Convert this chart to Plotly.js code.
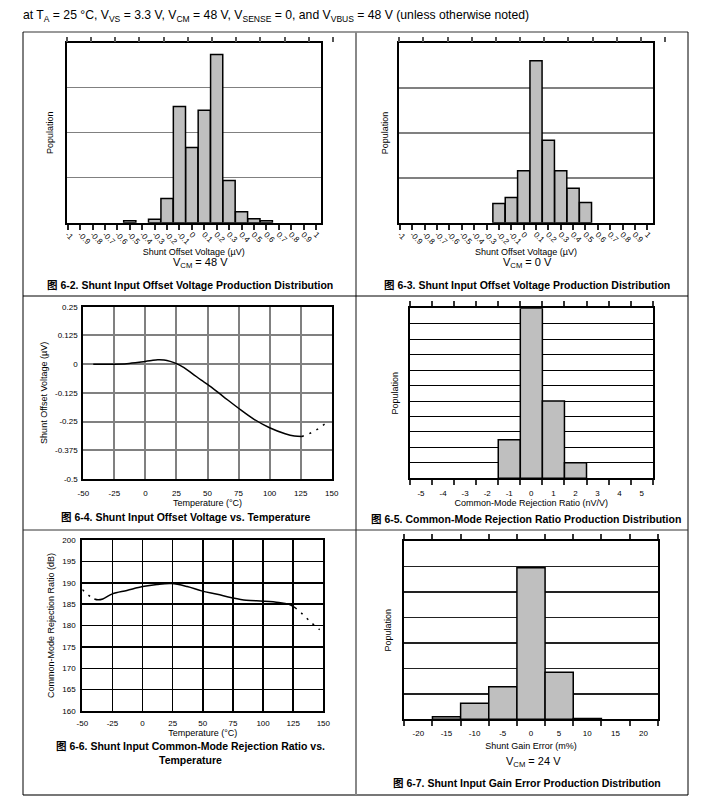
<!DOCTYPE html>
<html><head><meta charset="utf-8">
<script src="https://cdn.plot.ly/plotly-3.0.1.min.js"></script>
<style>html,body{margin:0;padding:0;background:#fff}#chart{width:724px;height:806px}</style>
</head><body><div id="chart"></div>
<script>
// ---------- data ----------
const offsetTickVals = [-1,-0.9,-0.8,-0.7,-0.6,-0.5,-0.4,-0.3,-0.2,-0.1,0,0.1,0.2,0.3,0.4,0.5,0.6,0.7,0.8,0.9,1];
const offsetTickText = ["-1","-0.9","-0.8","-0.7","-0.6","-0.5","-0.4","-0.3","-0.2","-0.1","0","0.1","0.2","0.3","0.4","0.5","0.6","0.7","0.8","0.9","1"];
const vcm48Bins = [-0.5,-0.3,-0.2,-0.1,0,0.1,0.2,0.3,0.4,0.5,0.6];
const vcm48Pop  = [0.044,0.074,0.54,2.58,1.67,2.50,3.74,0.94,0.244,0.089,0.044];
const vcm0Bins  = [-0.2,-0.1,0,0.1,0.2,0.3,0.4,0.5];
const vcm0Pop   = [0.43,0.56,1.16,3.61,1.84,1.16,0.77,0.45];

const tempTickVals = [-50,-25,0,25,50,75,100,125,150];
const tempTickText = ["-50","-25","0","25","50","75","100","125","150"];

const offTempX   = [-42,-35,-25,-15,-5,0,5,10,15,20,25,30,37.5,45,50,62.5,75,87.5,100,112.5,120,126];
const offTempY   = [0,0,0,0.002,0.008,0.012,0.016,0.019,0.018,0.012,0.002,-0.012,-0.04,-0.07,-0.088,-0.14,-0.192,-0.24,-0.277,-0.303,-0.313,-0.315];
const offTempDotX = [126,132,139,147];
const offTempDotY = [-0.315,-0.303,-0.282,-0.25];
const offYTickVals = [-0.5,-0.375,-0.25,-0.125,0,0.125,0.25];
const offYTickText = ["-0.5","-0.375","-0.25","-0.125","0","0.125","0.25"];

const cmrrBins = [-1,0,1,2];
const cmrrPop  = [2.5,11,5,1];
const cmrrBinEdges = [-5.5,-4.5,-3.5,-2.5,-1.5,-0.5,0.5,1.5,2.5,3.5,4.5,5.5];
const cmrrTickText = ["-5","-4","-3","-2","-1","0","1","2","3","4","5",""];

const cmrrTempX = [-40,-37,-33,-25,-13,0,12,24,37,49,62,74,86,100,113,121,126.5];
const cmrrTempY = [186.2,186.0,186.2,187.4,188.2,189.1,189.6,189.8,189.1,188.1,187.3,186.5,185.9,185.7,185.4,185.0,184.2];
const cmrrDotLowX = [-50,-43,-40];
const cmrrDotLowY = [188.4,186.7,186.2];
const cmrrDotHighX = [126.5,133,140,147];
const cmrrDotHighY = [184.2,182.6,180.7,179.0];
const cmrrYTickVals = [160,165,170,175,180,185,190,195,200];
const cmrrYTickText = ["160","165","170","175","180","185","190","195","200"];

const gainBins = [-15,-10,-5,0,5,10];
const gainPop  = [0.10,0.63,1.28,5.95,1.85,0.03];
const gainBinEdges = [-22.5,-17.5,-12.5,-7.5,-2.5,2.5,7.5,12.5,17.5,22.5];
const gainTickText = ["-20","-15","-10","-5","0","5","10","15","20",""];

const headerText = "at T<sub>A</sub> = 25 °C, V<sub>VS</sub> = 3.3 V, V<sub>CM</sub> = 48 V, V<sub>SENSE</sub> = 0, and V<sub>VBUS</sub> = 48 V (unless otherwise noted)";

// ---------- helpers ----------
const W = 724, H = 806;
const dx = (a,b) => [a/W, b/W];
const dy = (top,bot) => [1-bot/H, 1-top/H];
const FONT = '"Liberation Sans", Arial, "Noto Sans CJK SC", sans-serif';
const barFill = '#BFBFBF';
const lineStyle = {color:'#000', width:1.5};
const box = {showline:true, linecolor:'#000', linewidth:2, mirror:true, zeroline:false, fixedrange:true};
const ghost = (xa, ya) => ({type:'scatter', mode:'markers', x:[0], y:[0], xaxis:xa, yaxis:ya,
  marker:{opacity:0, size:1}, hoverinfo:'skip', showlegend:false});

// ---------- traces ----------
const traces = [
  {type:'bar', x:vcm48Bins, y:vcm48Pop, width:0.098, xaxis:'x', yaxis:'y',
   marker:{color:barFill, line:lineStyle}, hoverinfo:'skip'},
  {type:'bar', x:vcm0Bins, y:vcm0Pop, width:0.098, xaxis:'x2', yaxis:'y2',
   marker:{color:barFill, line:lineStyle}, hoverinfo:'skip'},
  {type:'scatter', mode:'lines', x:offTempX, y:offTempY, xaxis:'x3', yaxis:'y3',
   line:{color:'#000', width:1.5, shape:'spline'}},
  {type:'scatter', mode:'lines', x:offTempDotX, y:offTempDotY, xaxis:'x3', yaxis:'y3',
   line:{color:'#000', width:1.5, dash:'2px,6px'}},
  {type:'bar', x:cmrrBins, y:cmrrPop, width:1, xaxis:'x4', yaxis:'y4',
   marker:{color:barFill, line:lineStyle}, hoverinfo:'skip'},
  {type:'scatter', mode:'lines', x:cmrrTempX, y:cmrrTempY, xaxis:'x5', yaxis:'y5',
   line:{color:'#000', width:1.5, shape:'spline'}},
  {type:'scatter', mode:'lines', x:cmrrDotLowX, y:cmrrDotLowY, xaxis:'x5', yaxis:'y5',
   line:{color:'#000', width:1.5, dash:'2px,6px', shape:'spline'}},
  {type:'scatter', mode:'lines', x:cmrrDotHighX, y:cmrrDotHighY, xaxis:'x5', yaxis:'y5',
   line:{color:'#000', width:1.5, dash:'2px,6px', shape:'spline'}},
  {type:'bar', x:gainBins, y:gainPop, width:5, xaxis:'x6', yaxis:'y6',
   marker:{color:barFill, line:lineStyle}, hoverinfo:'skip'},
  ghost('x7','y7'), ghost('x8','y8')
];

const tickF = {size:8, color:'#000'};
const titF = {size:9, color:'#000'};
const TW = 2;  // tick width

const topTicks = {side:'top', range:[-0.5,11.5], tickmode:'linear', tick0:0, dtick:1,
  ticks:'outside', ticklen:5, tickwidth:TW, tickcolor:'#555', showticklabels:false, showgrid:false,
  showline:false, zeroline:false, fixedrange:true};
const tinyY = {showticklabels:false, ticks:'', showgrid:false, showline:false, zeroline:false, fixedrange:true, range:[-1,1]};

const ann = (text, x, y, size) => ({text:text, x:x/W, y:1-y/H, xref:'paper', yref:'paper',
  xanchor:'center', yanchor:'middle', showarrow:false, font:{size:size, color:'#000'}});

const layout = {
  width:W, height:H, margin:{l:0,r:0,t:0,b:0},
  paper_bgcolor:'#fff', plot_bgcolor:'rgba(0,0,0,0)',
  showlegend:false, bargap:0,
  font:{family:FONT, size:8, color:'#000'},
  title:{text:headerText, x:23/W, xanchor:'left', xref:'paper', y:1-15/H, yanchor:'middle', font:{size:12.2, color:'#000'}},

  // Panel 1
  xaxis:Object.assign({}, box, {domain:dx(66.7,320.7), anchor:'y', range:[-1.008,1.038],
    tickmode:'array', tickvals:offsetTickVals, ticktext:offsetTickText, tickangle:45, ticklabelstandoff:-3,
    ticks:'outside', ticklen:5, tickwidth:TW, tickcolor:'#222', showgrid:false, tickfont:tickF,
    title:{text:'Shunt Offset Voltage (µV)', font:titF, standoff:0}}),
  yaxis:Object.assign({}, box, {domain:dy(42.7,222.7), anchor:'x', range:[0,4], tickmode:'linear', tick0:0, dtick:1,
    showticklabels:false, ticks:'', showgrid:true, gridcolor:'#808080', gridwidth:1.5,
    title:{text:'Population', font:titF, standoff:10}}),
  xaxis7:Object.assign({}, topTicks, {domain:dx(54.6,345), anchor:'y7'}),
  yaxis7:Object.assign({}, tinyY, {domain:dy(42.7,43.2), anchor:'x7'}),

  // Panel 2
  xaxis2:Object.assign({}, box, {domain:dx(399.3,652.7), anchor:'y2', range:[-1.0057,1.0437],
    tickmode:'array', tickvals:offsetTickVals, ticktext:offsetTickText, tickangle:45, ticklabelstandoff:-3,
    ticks:'outside', ticklen:5, tickwidth:TW, tickcolor:'#222', showgrid:false, tickfont:tickF,
    title:{text:'Shunt Offset Voltage (µV)', font:titF, standoff:0}}),
  yaxis2:Object.assign({}, box, {domain:dy(43.3,222.7), anchor:'x2', range:[0,4], tickmode:'linear', tick0:0, dtick:1,
    showticklabels:false, ticks:'', showgrid:true, gridcolor:'#808080', gridwidth:1.5,
    title:{text:'Population', font:titF, standoff:7}}),
  xaxis8:Object.assign({}, topTicks, {domain:dx(387.2,677.1), anchor:'y8'}),
  yaxis8:Object.assign({}, tinyY, {domain:dy(43.3,43.8), anchor:'x8'}),

  // Panel 3
  xaxis3:Object.assign({}, box, {domain:dx(83.3,331.7), anchor:'y3', range:[-50,150],
    tickmode:'array', tickvals:tempTickVals, ticktext:tempTickText, ticks:'', ticklabelstandoff:5,
    showgrid:true, gridcolor:'#808080', gridwidth:2, tickfont:tickF,
    title:{text:'Temperature (°C)', font:titF, standoff:2}}),
  yaxis3:Object.assign({}, box, {domain:dy(306.7,479), anchor:'x3', range:[-0.5,0.25],
    tickmode:'array', tickvals:offYTickVals, ticktext:offYTickText, ticks:'', ticklabelstandoff:2,
    showgrid:true, gridcolor:'#808080', gridwidth:2, tickfont:tickF,
    title:{text:'Shunt Offset Voltage (µV)', font:titF, standoff:6}}),

  // Panel 4
  xaxis4:Object.assign({}, box, {domain:dx(410,652.7), anchor:'y4', range:[-5.5,5.5], mirror:'ticks',
    tickmode:'array', tickvals:cmrrBinEdges, ticktext:cmrrTickText, ticklabelshift:11, ticklabelstandoff:1,
    ticks:'outside', ticklen:5, tickwidth:TW, tickcolor:'#333',
    showgrid:false, tickfont:tickF,
    title:{text:'Common-Mode Rejection Ratio (nV/V)', font:titF, standoff:3}}),
  yaxis4:Object.assign({}, box, {domain:dy(308.3,478.3), anchor:'x4', range:[0,11], tickmode:'linear', tick0:0, dtick:1,
    showticklabels:false, ticks:'', showgrid:true, gridcolor:'#000', gridwidth:1,
    title:{text:'Population', font:titF, standoff:8}}),

  // Panel 5
  xaxis5:Object.assign({}, box, {domain:dx(82.3,323.3), anchor:'y5', range:[-50,150],
    tickmode:'array', tickvals:tempTickVals, ticktext:tempTickText, ticks:'', ticklabelstandoff:3,
    showgrid:true, gridcolor:'#000', gridwidth:1.5, tickfont:tickF,
    title:{text:'Temperature (°C)', font:titF, standoff:1}}),
  yaxis5:Object.assign({}, box, {domain:dy(540,711), anchor:'x5', range:[160,200],
    tickmode:'array', tickvals:cmrrYTickVals, ticktext:cmrrYTickText, ticks:'', ticklabelstandoff:3,
    showgrid:true, gridcolor:'#000', gridwidth:1.5, tickfont:tickF,
    title:{text:'Common-Mode Rejection Ratio (dB)', font:titF, standoff:6}}),

  // Panel 6
  xaxis6:Object.assign({}, box, {domain:dx(404.3,657.7), anchor:'y6', range:[-22.5,22.5], mirror:'ticks',
    tickmode:'array', tickvals:gainBinEdges, ticktext:gainTickText, ticklabelshift:14, ticklabelstandoff:0,
    ticks:'outside', ticklen:5, tickwidth:TW, tickcolor:'#333',
    showgrid:false, tickfont:tickF,
    title:{text:'Shunt Gain Error (m%)', font:titF, standoff:6}}),
  yaxis6:Object.assign({}, box, {domain:dy(541,719.3), anchor:'x6', range:[0,7], tickmode:'linear', tick0:0, dtick:1,
    showticklabels:false, ticks:'', showgrid:true, gridcolor:'#222', gridwidth:1.5,
    title:{text:'Population', font:titF, standoff:9}}),

  shapes:[
    {type:'line', xref:'paper', yref:'paper', x0:23/W, x1:688/W, y0:1-32/H, y1:1-32/H, line:{color:'#777', width:1.5}},
    {type:'line', xref:'paper', yref:'paper', x0:23/W, x1:688/W, y0:1-795/H, y1:1-795/H, line:{color:'#777', width:2}},
    {type:'line', xref:'paper', yref:'paper', x0:23/W, x1:23/W, y0:1-32/H, y1:1-795/H, line:{color:'#000', width:1}},
    {type:'line', xref:'paper', yref:'paper', x0:688/W, x1:688/W, y0:1-32/H, y1:1-795/H, line:{color:'#000', width:1}},
    {type:'line', xref:'paper', yref:'paper', x0:356/W, x1:356/W, y0:1-32/H, y1:1-795/H, line:{color:'#888', width:2}},
    {type:'line', xref:'paper', yref:'paper', x0:23/W, x1:688/W, y0:1-296/H, y1:1-296/H, line:{color:'#000', width:1}},
    {type:'line', xref:'paper', yref:'paper', x0:23/W, x1:688/W, y0:1-530/H, y1:1-530/H, line:{color:'#333', width:1}}
  ],
  annotations:[
    ann('V<sub>CM</sub> = 48 V', 200, 263, 11),
    ann('V<sub>CM</sub> = 0 V', 527, 263, 11),
    ann('V<sub>CM</sub> = 24 V', 533, 762, 11),
    ann('<b>图 6-2. Shunt Input Offset Voltage Production Distribution</b>', 190, 285, 10.5),
    ann('<b>图 6-3. Shunt Input Offset Voltage Production Distribution</b>', 527, 285, 10.5),
    ann('<b>图 6-4. Shunt Input Offset Voltage vs. Temperature</b>', 185, 517, 10.5),
    ann('<b>图 6-5. Common-Mode Rejection Ratio Production Distribution</b>', 526, 519, 10.5),
    ann('<b>图 6-6. Shunt Input Common-Mode Rejection Ratio vs.<br>Temperature</b>', 190, 753, 10.5),
    ann('<b>图 6-7. Shunt Input Gain Error Production Distribution</b>', 527, 783, 10.5)
  ]
};

Plotly.newPlot('chart', traces, layout, {displayModeBar:false, staticPlot:true});
</script>
</body></html>
